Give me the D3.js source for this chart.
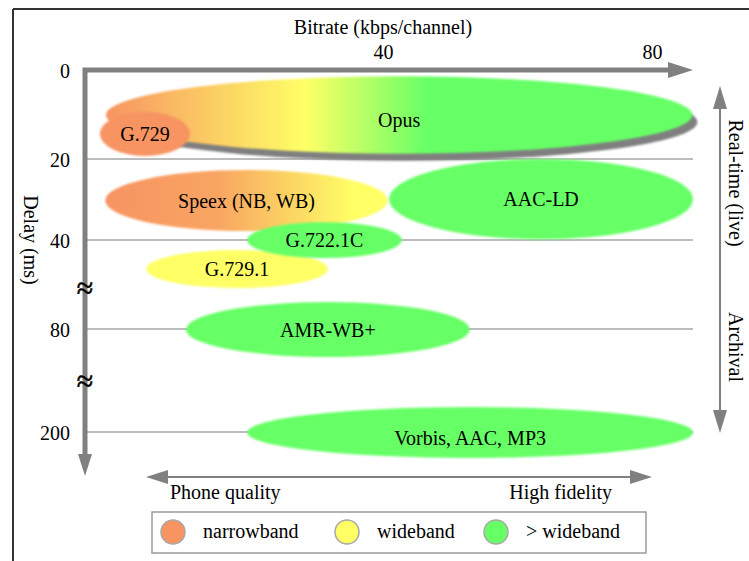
<!DOCTYPE html>
<html><head><meta charset="utf-8">
<script src="https://cdn.jsdelivr.net/npm/d3@7"></script>
<style>
html,body{margin:0;padding:0;background:#fff;}
svg{display:block;}
text{font-family:"Liberation Serif","Times New Roman",serif;fill:#000;}
</style></head>
<body><svg id="chart" width="749" height="561"></svg>
<script>
// ---- data ----
const codecs      = ["Opus", "G.729", "Speex (NB, WB)", "G.729.1", "G.722.1C", "AAC-LD", "AMR-WB+", "Vorbis, AAC, MP3"];
const bitrateLow  = [-1.2, -2.1, -1.3,  4.8, 19.8, 40.9, 10.7, 19.8];
const bitrateHigh = [86.0, 11.3, 40.7, 31.8, 42.8, 86.1, 52.9, 86.1];
const delayLow    = [1.4,   9.4, 22.7, 44.5, 35.6, 20.0, 67.9, 170.9];
const delayHigh   = [18.8, 19.3, 37.8, 61.6, 48.1, 39.8, 112.6, 230.3];
const bandType    = ["nb-fb", "nb", "nb-wb", "wb", "fb", "fb", "fb", "fb"];
const xTickValues = [40, 80];
const yTickValues = [0, 20, 40, 80, 200];
const legendLabels = ["narrowband", "wideband", "> wideband"];
const legendBands  = ["nb", "wb", "fb"];

const ORANGE = "#f79462", YELLOW = "#ffff66", GREEN = "#66ff66", AXIS = "#808080";
const FONT = '"Liberation Serif","Times New Roman",serif';

const svg = d3.select("#chart");

// frame
svg.append("line").attr("x1", 13).attr("x2", 749).attr("y1", 9).attr("y2", 9).attr("stroke", "#333").attr("stroke-width", 2);
svg.append("line").attr("x1", 13).attr("x2", 13).attr("y1", 9).attr("y2", 561).attr("stroke", "#333").attr("stroke-width", 2);

// scales
const x = d3.scaleLinear().domain([40, 80]).range([383, 652]);
const y = d3.scaleLinear().domain(yTickValues).range([70, 159, 240, 329, 432]);
const x0px = 85, xEnd = 693;

const defs = svg.append("defs");
const blur = defs.append("filter").attr("id", "soft").attr("x", "-5%").attr("y", "-10%").attr("width", "110%").attr("height", "120%");
blur.append("feGaussianBlur").attr("stdDeviation", 0.9);
function grad(id, stops) {
  const g = defs.append("linearGradient").attr("id", id).attr("x1", "0").attr("x2", "1").attr("y1", "0").attr("y2", "0");
  stops.forEach(s => g.append("stop").attr("offset", s[0]).attr("stop-color", s[1]));
}
grad("g-nbfb", [[0, ORANGE], [0.34, YELLOW], [0.55, GREEN], [1, GREEN]]);
grad("g-nbwb", [[0, ORANGE], [0.4, "#f9a562"], [0.88, YELLOW], [1, YELLOW]]);
const fillFor = {"nb-fb": "url(#g-nbfb)", "nb-wb": "url(#g-nbwb)", "nb": ORANGE, "wb": YELLOW, "fb": GREEN};

// gridlines
svg.append("g").selectAll("line").data(yTickValues.slice(1)).join("line")
  .attr("x1", x0px).attr("x2", xEnd).attr("y1", d => y(d)).attr("y2", d => y(d))
  .attr("stroke", "#a6a6a6").attr("stroke-width", 1.5);

// top axis (bitrate)
const xAxis = svg.append("g").attr("transform", `translate(0,${y(0)})`)
  .call(d3.axisTop(x).tickValues(xTickValues).tickSize(0).tickPadding(11));
xAxis.select(".domain").remove();
xAxis.selectAll("text").attr("font-size", 20).attr("font-family", FONT).attr("fill", "#000");

// left axis (delay)
const yAxis = svg.append("g").attr("transform", `translate(${x0px},0)`)
  .call(d3.axisLeft(y).tickValues(yTickValues).tickFormat(d3.format("d")).tickSize(0).tickPadding(15));
yAxis.select(".domain").remove();
yAxis.selectAll("text").attr("font-size", 20).attr("font-family", FONT).attr("fill", "#000").attr("dy", "0.36em");

// thick axis lines with arrows
svg.append("path").attr("d", `M${xEnd - 22},${y(0)} H${x0px} V455`)
  .attr("fill", "none").attr("stroke", AXIS).attr("stroke-width", 5);
svg.append("path").attr("d", `M${xEnd},${y(0)} L${xEnd - 25},${y(0) - 8} L${xEnd - 25},${y(0) + 8} Z`).attr("fill", AXIS);
svg.append("path").attr("d", `M${x0px},476 L${x0px - 7},454 L${x0px + 7},454 Z`).attr("fill", AXIS);

// axis titles
svg.append("text").attr("x", 383).attr("y", 34).attr("text-anchor", "middle").attr("font-size", 20).attr("font-family", FONT).text("Bitrate (kbps/channel)");
svg.append("text").attr("transform", "translate(24,240) rotate(90)").attr("text-anchor", "middle").attr("font-size", 20).attr("font-family", FONT).text("Delay (ms)");

// axis break marks
[287, 380].forEach(py => {
  svg.append("text").attr("x", x0px).attr("y", py).attr("dy", "0.35em").attr("text-anchor", "middle")
    .attr("font-size", 30).attr("font-family", FONT).attr("stroke", "#000").attr("stroke-width", 0.6).text("\u2248");
});

// ellipses
const rows = codecs.map((c, i) => ({
  name: c, band: bandType[i],
  cx: (x(bitrateLow[i]) + x(bitrateHigh[i])) / 2,
  rx: (x(bitrateHigh[i]) - x(bitrateLow[i])) / 2,
  cy: (y(delayLow[i]) + y(delayHigh[i])) / 2,
  ry: (y(delayHigh[i]) - y(delayLow[i])) / 2
}));
const eg = svg.append("g");
// Opus shadow
const opus = rows[0];
eg.append("ellipse").attr("cx", opus.cx + 5).attr("cy", opus.cy + 7).attr("rx", opus.rx).attr("ry", opus.ry)
  .attr("fill", "#7f7f7f").attr("filter", "url(#soft)");
eg.selectAll("ellipse.codec").data(rows).join("ellipse").attr("class", "codec")
  .attr("cx", d => d.cx).attr("cy", d => d.cy).attr("rx", d => d.rx).attr("ry", d => d.ry)
  .attr("fill", d => fillFor[d.band]).attr("filter", "url(#soft)");
svg.append("g").selectAll("text").data(rows).join("text")
  .attr("x", d => d.cx).attr("y", d => d.cy + (d.name === "Opus" || d.name.startsWith("Vorbis") ? 5 : 0))
  .attr("dy", "0.35em").attr("text-anchor", "middle").attr("font-size", 20).attr("font-family", FONT).text(d => d.name);

// right double arrow
const rx0 = 720;
svg.append("line").attr("x1", rx0).attr("x2", rx0).attr("y1", 100).attr("y2", 420).attr("stroke", AXIS).attr("stroke-width", 2);
svg.append("path").attr("d", `M${rx0},86 L${rx0 - 7},109 L${rx0 + 7},109 Z`).attr("fill", AXIS);
svg.append("path").attr("d", `M${rx0},433 L${rx0 - 7},410 L${rx0 + 7},410 Z`).attr("fill", AXIS);
svg.append("text").attr("transform", "translate(729,183) rotate(90)").attr("text-anchor", "middle").attr("font-size", 20).attr("font-family", FONT).text("Real-time (live)");
svg.append("text").attr("transform", "translate(729,347) rotate(90)").attr("text-anchor", "middle").attr("font-size", 20).attr("font-family", FONT).text("Archival");

// bottom double arrow
const by = 477;
svg.append("line").attr("x1", 160).attr("x2", 640).attr("y1", by).attr("y2", by).attr("stroke", AXIS).attr("stroke-width", 2);
svg.append("path").attr("d", `M146,${by} L168,${by - 7} L168,${by + 7} Z`).attr("fill", AXIS);
svg.append("path").attr("d", `M652,${by} L630,${by - 7} L630,${by + 7} Z`).attr("fill", AXIS);
svg.append("text").attr("x", 170).attr("y", 499).attr("font-size", 20).attr("font-family", FONT).text("Phone quality");
svg.append("text").attr("x", 612).attr("y", 499).attr("text-anchor", "end").attr("font-size", 20).attr("font-family", FONT).text("High fidelity");

// legend
svg.append("rect").attr("x", 152).attr("y", 512).attr("width", 494).attr("height", 41).attr("fill", "#fff").attr("stroke", "#9a9a9a").attr("stroke-width", 1.5);
const lgX = [173, 347, 496];
const lg = svg.append("g").selectAll("g").data(legendLabels).join("g").attr("transform", (d, i) => `translate(${lgX[i]},532)`);
lg.append("circle").attr("r", 12).attr("fill", (d, i) => fillFor[legendBands[i]]).attr("stroke", "#a8a8a8").attr("stroke-width", 1.5);
lg.append("text").attr("x", 30).attr("dy", "0.32em").attr("font-size", 20).attr("font-family", FONT).text(d => d);
</script></body></html>
